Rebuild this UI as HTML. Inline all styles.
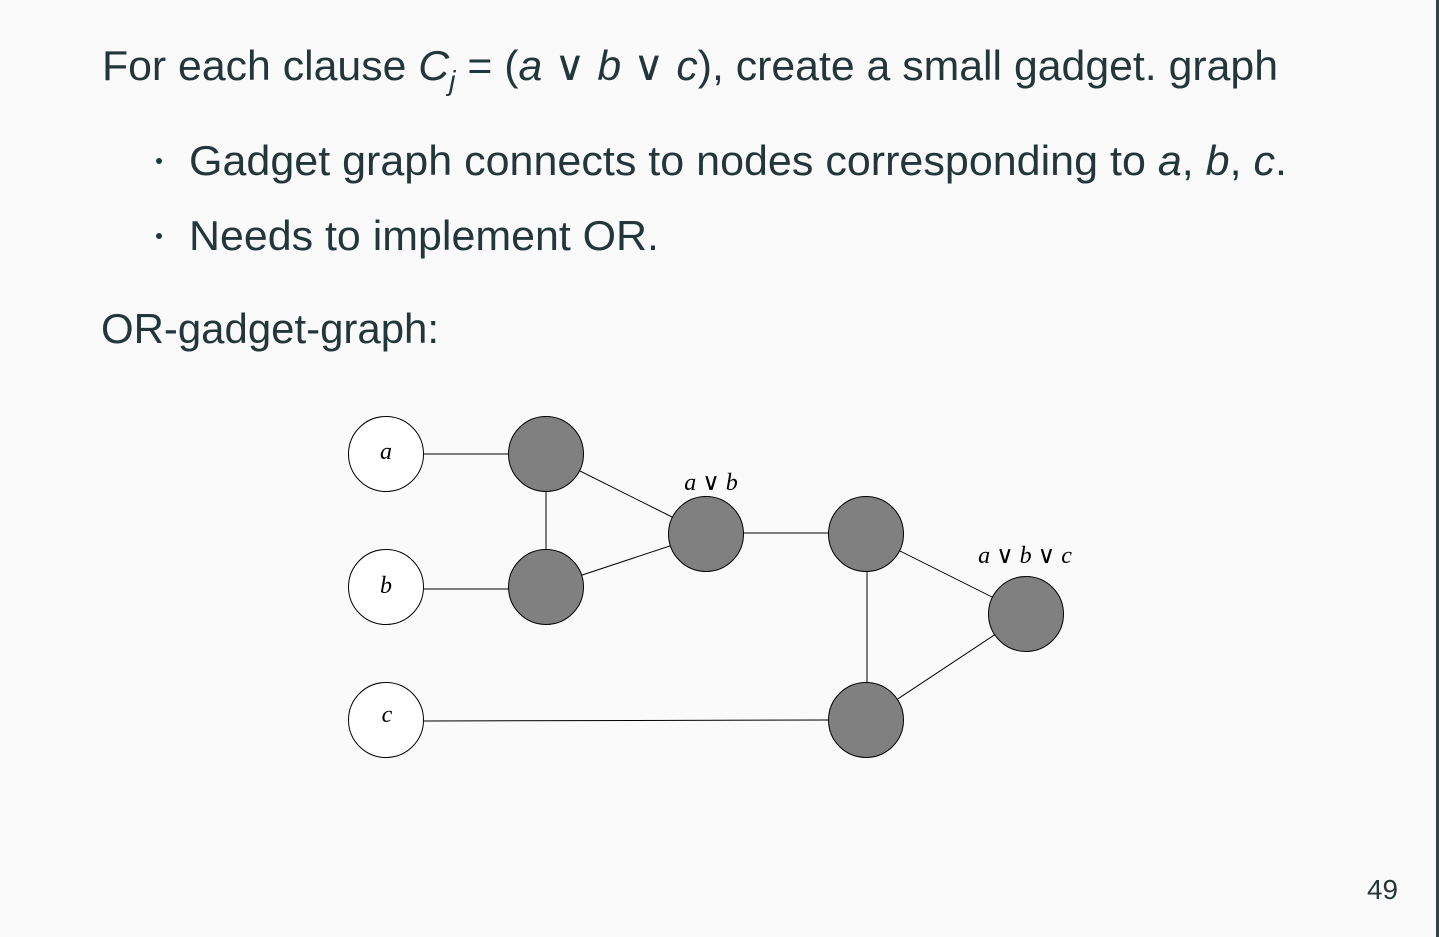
<!DOCTYPE html>
<html><head><style>
html,body{margin:0;padding:0;background:#fafafa;}
svg{display:block;}
</style></head><body>
<svg width="1439" height="937" viewBox="0 0 1439 937" xmlns="http://www.w3.org/2000/svg">
<rect width="1439" height="937" fill="#fafafa"/>
<rect x="1436" y="0" width="3" height="937" fill="#3a3f42"/>
<g font-family="Liberation Sans, sans-serif" fill="#23373b" font-size="42">
<text x="102" y="80" textLength="1176" lengthAdjust="spacingAndGlyphs">For each clause <tspan font-style="italic">C</tspan><tspan font-style="italic" font-size="28" dy="10">j</tspan><tspan dy="-10"> = (</tspan><tspan font-style="italic">a</tspan> ∨ <tspan font-style="italic">b</tspan> ∨ <tspan font-style="italic">c</tspan>), create a small gadget. graph</text>
<circle cx="159" cy="161" r="3"/>
<text x="189" y="175" textLength="1098" lengthAdjust="spacingAndGlyphs">Gadget graph connects to nodes corresponding to <tspan font-style="italic">a</tspan>, <tspan font-style="italic">b</tspan>, <tspan font-style="italic">c</tspan>.</text>
<circle cx="159" cy="236" r="3"/>
<text x="189" y="250" textLength="470" lengthAdjust="spacingAndGlyphs">Needs to implement OR.</text>
<text x="101" y="343" textLength="338" lengthAdjust="spacingAndGlyphs">OR-gadget-graph:</text>
<text x="1367" y="899" font-size="28" textLength="31" lengthAdjust="spacingAndGlyphs">49</text>
</g>
<g stroke="#000" stroke-width="1">
<line x1="424" y1="454" x2="509" y2="454"/>
<line x1="424" y1="589" x2="509" y2="589"/>
<line x1="424" y1="721" x2="829" y2="720"/>
<line x1="546" y1="454" x2="546" y2="587"/>
<line x1="546" y1="454" x2="706" y2="534"/>
<line x1="546" y1="587" x2="706" y2="534"/>
<line x1="706" y1="533" x2="866" y2="533"/>
<line x1="867" y1="534" x2="867" y2="720"/>
<line x1="866" y1="534" x2="1026" y2="614"/>
<line x1="866" y1="720" x2="1026" y2="614"/>
</g>
<g stroke="#000" stroke-width="1">
<circle cx="386" cy="454" r="37.5" fill="#fff"/>
<circle cx="386" cy="587" r="37.5" fill="#fff"/>
<circle cx="386" cy="720" r="37.5" fill="#fff"/>
<circle cx="546" cy="454" r="37.5" fill="#808080"/>
<circle cx="546" cy="587" r="37.5" fill="#808080"/>
<circle cx="706" cy="534" r="37.5" fill="#808080"/>
<circle cx="866" cy="534" r="37.5" fill="#808080"/>
<circle cx="866" cy="720" r="37.5" fill="#808080"/>
<circle cx="1026" cy="614" r="37.5" fill="#808080"/>
</g>
<g font-family="Liberation Serif, serif" font-style="italic" font-size="24" fill="#000" text-anchor="middle">
<text x="386" y="459">a</text>
<text x="386" y="593">b</text>
<text x="387" y="722">c</text>
<text x="711" y="490">a <tspan font-style="normal">∨</tspan> b</text>
<text x="1025" y="563">a <tspan font-style="normal">∨</tspan> b <tspan font-style="normal">∨</tspan> c</text>
</g>
</svg>
</body></html>
